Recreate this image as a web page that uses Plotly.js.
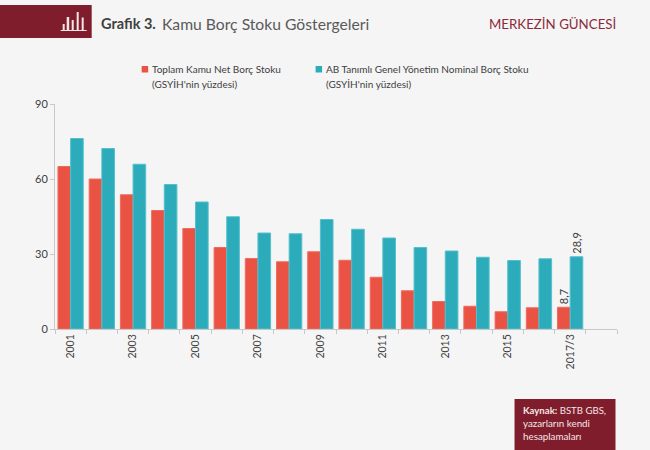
<!DOCTYPE html>
<html><head><meta charset="utf-8">
<script src="https://cdn.plot.ly/plotly-3.0.1.min.js"></script>
<style>html,body{margin:0;padding:0;background:#f5f5f5}</style></head>
<body><div id="chart" style="width:650px;height:450px"></div>
<script>
const categories = ["2001","2002","2003","2004","2005","2006","2007","2008","2009","2010","2011","2012","2013","2014","2015","2016","2017/3"," "];
const tickLabels = ["2001","","2003","","2005","","2007","","2009","","2011","","2013","","2015","","2017/3",""];
const netDebt = [65,60,53.7,47.4,40.2,32.6,28.2,26.9,30.9,27.5,20.7,15.3,11,9.1,6.9,8.5,8.7];
const abDebt = [76.2,72.2,65.9,57.8,50.8,44.9,38.4,38.1,43.8,39.9,36.4,32.6,31.2,28.7,27.4,28.1,28.9];
const netLabels = netDebt.map((v,i)=> i===16 ? "8,7\u00a0" : "");
const abLabels = abDebt.map((v,i)=> i===16 ? "28,9\u00a0" : "");
const netName = "Toplam Kamu Net Borç Stoku";
const abName = "AB Tanımlı Genel Yönetim Nominal Borç Stoku";
const unitName = "(GSYİH'nin yüzdesi)";
const W=650,H=450,L=55.3,R=617.5,T=104,B=329;
const px=x=>(x-L)/(R-L), py=y=>(B-y)/(B-T);
const rect=(x0,y0,x1,y1,c)=>({type:"rect",xref:"paper",yref:"paper",x0:px(x0),x1:px(x1),y0:py(y0),y1:py(y1),fillcolor:c,line:{width:0},layer:"above"});
const note=(x,y,text,size,color,anchor,family)=>({xref:"paper",yref:"paper",x:px(x),y:py(y),text,showarrow:false,xanchor:anchor||"left",yanchor:"middle",align:"left",xshift:-1,font:{size,color,family:family||"Lato"}});
const dark="#7f1d2d", red="#ea5344", teal="#2cacbb", ink="#404040", pale="#f5e6e6";
const bar=(name,y,text,color,line)=>({type:"bar",name,x:categories.slice(0,17),y,text,textposition:"outside",textangle:-90,constraintext:"none",cliponaxis:false,textfont:{size:11,color:ink,family:"Lato"},marker:{color,line:{color:line,width:1}},hoverinfo:"x+y"});
const traces=[
 bar(netName,netDebt,netLabels,red,"#ee6c5f"),
 bar(abName,abDebt,abLabels,teal,"#55c0cc")
];
const layout={width:W,height:H,autosize:false,paper_bgcolor:"#f5f5f5",plot_bgcolor:"#f5f5f5",
 margin:{l:L,r:W-R,t:T,b:H-B,pad:0},barmode:"group",bargap:0.19,bargroupgap:0,
 showlegend:false,
 xaxis:{type:"category",categoryorder:"array",categoryarray:categories,tickmode:"array",tickvals:categories,ticktext:tickLabels,tickson:"boundaries",range:[-0.5,17.5],tickangle:-90,ticks:"outside",ticklen:4,tickcolor:"#c8c8c8",tickwidth:1,showline:true,linecolor:"#c8c8c8",linewidth:1,showgrid:false,zeroline:false,tickfont:{size:10.5,color:ink,family:"Lato"}},
 yaxis:{range:[0,90],tickvals:[0,30,60,90],ticks:"outside",ticklen:4,tickcolor:"#c8c8c8",tickwidth:1,showline:true,linecolor:"#c8c8c8",linewidth:1,showgrid:false,zeroline:false,tickfont:{size:11,color:ink,family:"Lato"}},
 shapes:[
  rect(0,5,92,38,dark),
  rect(61,30,87,31,pale),
  rect(63,24,65,30,pale),rect(67,17,69.5,30,pale),rect(72,20,74,30,pale),rect(77,12,79,30,pale),rect(82,17.5,84,30,pale),
  rect(515,399,616,450,dark),
  rect(142,66,148.5,72.5,red),rect(316,66,322.5,72.5,teal)
 ],
 annotations:[
  note(100,24,"<b>Grafik 3.</b>",14.5,"#404040"),
  note(161,24,"Kamu Borç Stoku Göstergeleri",15.7,"#595959"),
  note(620,24,"MERKEZİN GÜNCESİ",13.3,"#8c2a3a","right"),
  note(151,69,netName,10,ink),
  note(151,84,unitName,10,ink),
  note(325,69,abName,10,ink),
  note(325,84,unitName,10,ink),
  note(522,410,"<b>Kaynak:</b> BSTB GBS,",9.6,pale),
  note(522,423,"yazarların kendi",9.8,pale),
  note(522,436,"hesaplamaları",9.8,pale)
 ]};
Plotly.newPlot("chart",traces,layout,{displayModeBar:false});
</script></body></html>
